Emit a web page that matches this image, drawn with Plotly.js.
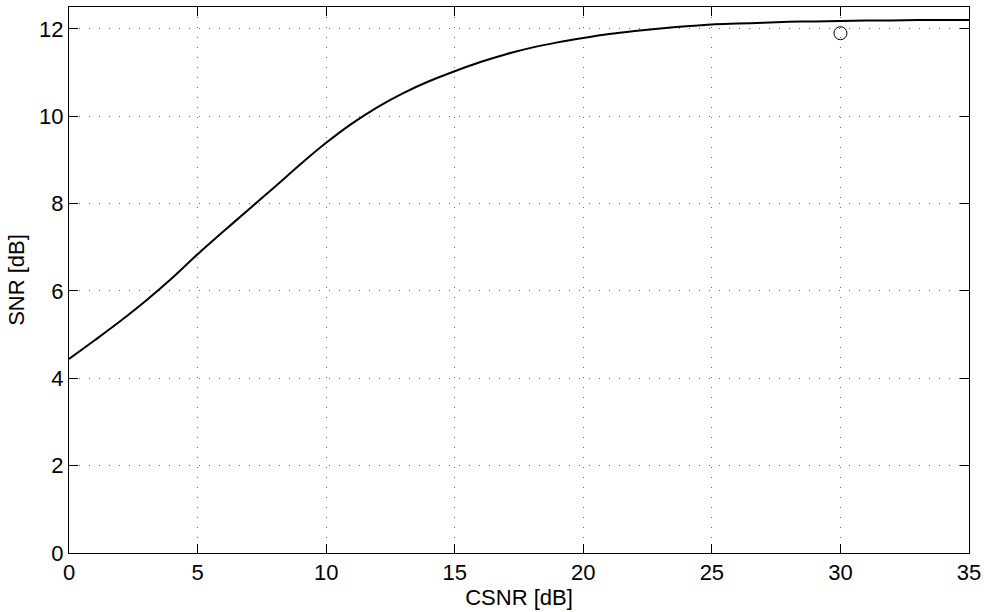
<!DOCTYPE html>
<html>
<head>
<meta charset="utf-8">
<script src="https://cdn.plot.ly/plotly-3.0.1.min.js"></script>
<style>html,body{margin:0;padding:0;background:#fff;}#chart{width:984px;height:612px;}</style>
</head>
<body>
<div id="chart"></div>
<script>
const csnr = [0,1,2,3,4,5,6,7,8,9,10,11,12,13,14,15,16,17,18,19,20,21,22,23,24,25,26,27,28,29,30,31,32,33,34,35];
const snr = [4.44,4.87,5.31,5.78,6.29,6.84,7.36,7.87,8.38,8.90,9.39,9.83,10.21,10.53,10.80,11.03,11.24,11.42,11.57,11.69,11.79,11.88,11.95,12.01,12.06,12.10,12.12,12.14,12.16,12.17,12.18,12.19,12.19,12.20,12.20,12.20];
const pointX = [30];
const pointY = [11.9];
const xTicks = [0,5,10,15,20,25,30,35];
const yTicks = [0,2,4,6,8,10,12];

const font = {family: 'Liberation Sans, Arial, sans-serif', size: 22, color: '#000'};
const axisCommon = {
  showline: true, linecolor: '#000', linewidth: 1, mirror: 'ticks',
  ticks: 'inside', ticklen: 9, tickwidth: 1, tickcolor: '#000',
  showgrid: true, gridcolor: '#666', gridwidth: 1, griddash: '1px,9px',
  zeroline: false, tickfont: font
};

const traces = [
  {x: csnr, y: snr, type: 'scatter', mode: 'lines', line: {color: '#000', width: 2, shape: 'spline', smoothing: 0.8}, hoverinfo: 'skip'},
  {x: pointX, y: pointY, type: 'scatter', mode: 'markers',
   marker: {symbol: 'circle-open', size: 13, color: '#000', line: {width: 1, color: '#000'}}}
];

const layout = {
  width: 984, height: 612,
  margin: {l: 69, r: 15, t: 7, b: 59},
  showlegend: false,
  paper_bgcolor: '#fff', plot_bgcolor: '#fff',
  font: font,
  xaxis: Object.assign({}, axisCommon, {range: [0, 35], tickvals: xTicks, ticktext: xTicks.map(String),
    title: {text: 'CSNR [dB]', font: font, standoff: 0}}),
  yaxis: Object.assign({}, axisCommon, {range: [0, 12.5], tickvals: yTicks, ticktext: yTicks.map(String),
    title: {text: 'SNR [dB]', font: font, standoff: 8}})
};

Plotly.newPlot('chart', traces, layout, {displayModeBar: false, staticPlot: true});
</script>
</body>
</html>
